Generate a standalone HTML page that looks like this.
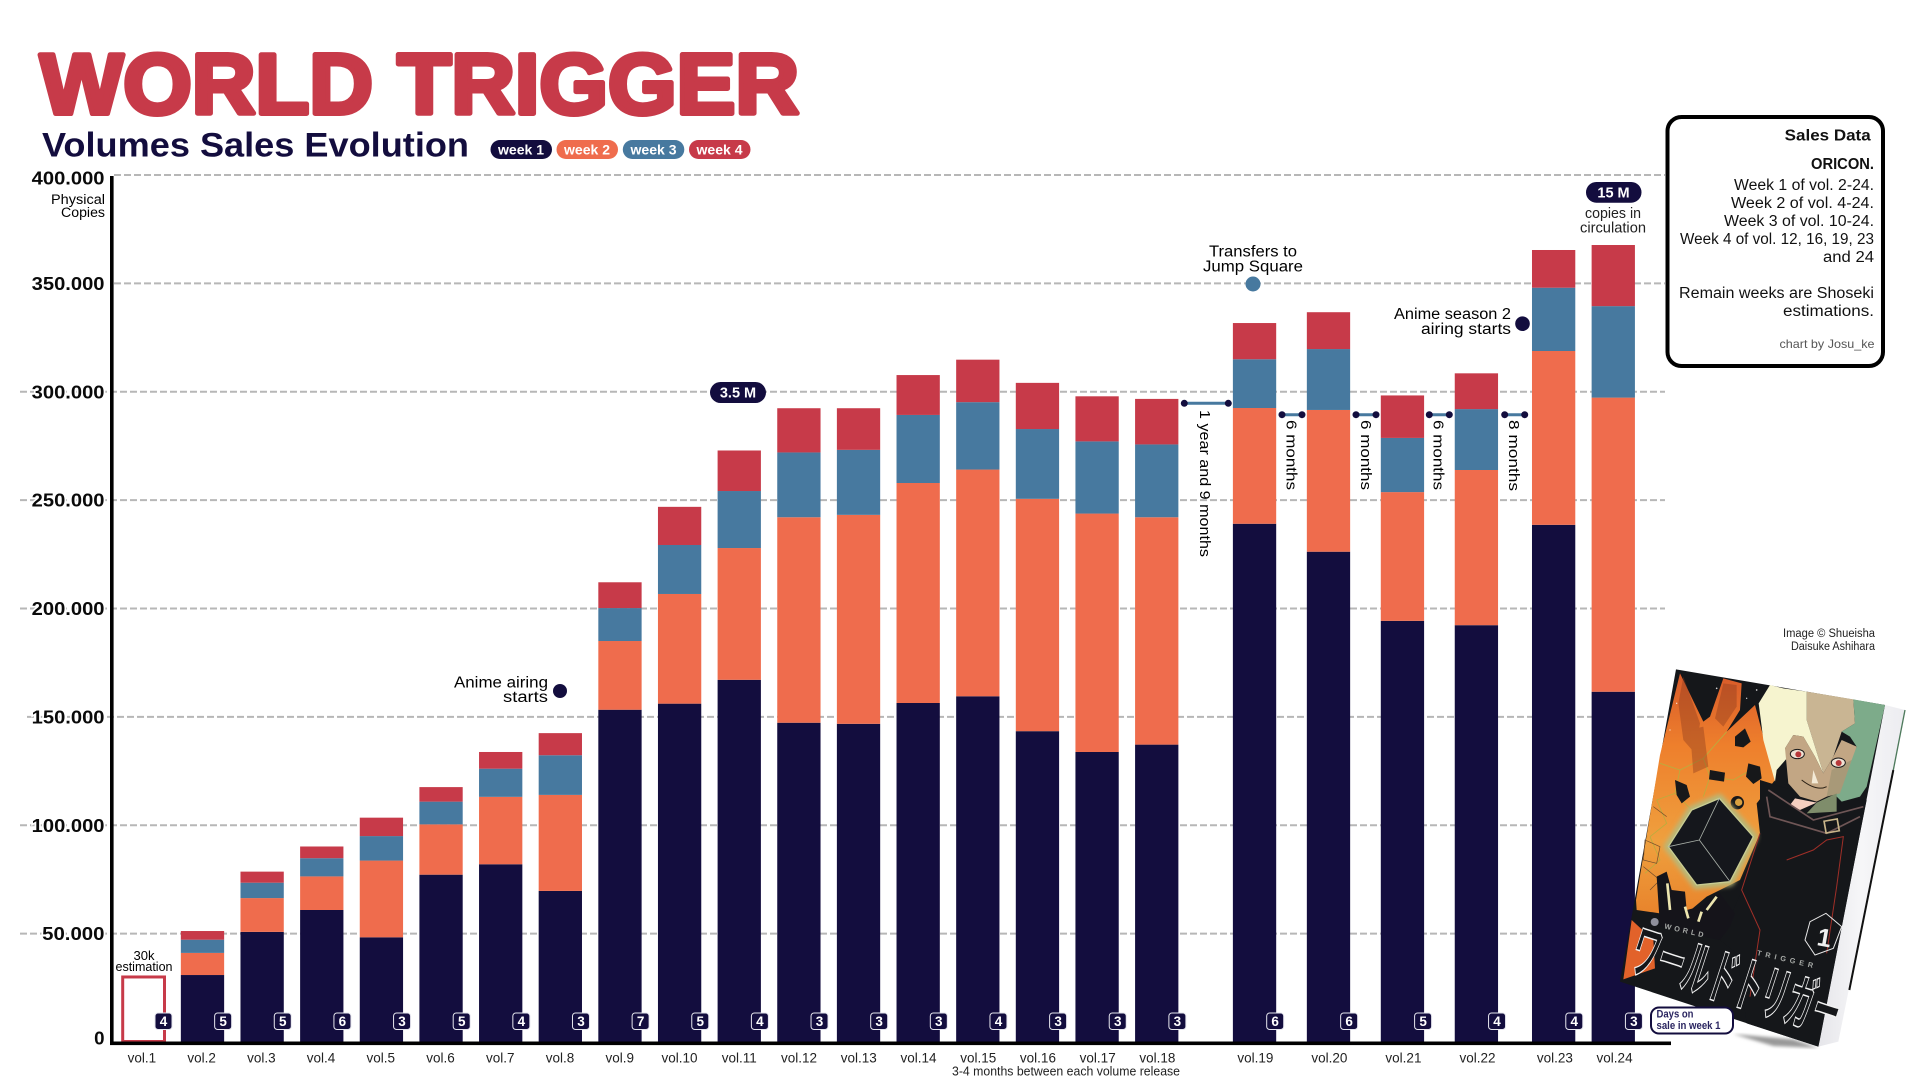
<!DOCTYPE html>
<html lang="en">
<head>
<meta charset="utf-8">
<title>World Trigger - Volumes Sales Evolution</title>
<style>
html,body{margin:0;padding:0;background:#fff;width:1920px;height:1080px;overflow:hidden}
svg{display:block;font-family:"Liberation Sans","Noto Sans CJK JP",sans-serif}
</style>
</head>
<body>
<svg id="chart" xmlns="http://www.w3.org/2000/svg" width="1920" height="1080" viewBox="0 0 1920 1080">
<defs>
<linearGradient id="orangeFan" x1="0" y1="0" x2="0" y2="1">
<stop offset="0" stop-color="#d85a2a"/><stop offset=".3" stop-color="#ee7f2c"/><stop offset=".7" stop-color="#efa03e"/><stop offset="1" stop-color="#e8842c"/>
</linearGradient>
<linearGradient id="pagesFill" x1="0" y1="0" x2="1" y2="0">
<stop offset="0" stop-color="#e6e6ea"/><stop offset=".5" stop-color="#f6f6f8"/><stop offset="1" stop-color="#ececf0"/>
</linearGradient>
<filter id="soft"><feGaussianBlur stdDeviation="5"/></filter>
<filter id="glow"><feGaussianBlur stdDeviation="7"/></filter>
</defs>

<g id="gridLayer"></g>
<g id="barLayer"></g>
<rect x="110" y="176" width="3.6" height="869" fill="#000"/>
<rect x="110" y="1041.5" width="1561" height="3.6" fill="#000"/>
<g id="tickLayer"></g>
<g id="xLabelLayer"></g>

<text x="40" y="113.5" font-size="85" font-weight="700" fill="#c73a49" stroke="#c73a49" stroke-width="5" stroke-linejoin="round" textLength="759" lengthAdjust="spacingAndGlyphs">WORLD TRIGGER</text>
<text x="42" y="156.5" font-size="34" font-weight="700" fill="#130d3e" textLength="427" lengthAdjust="spacingAndGlyphs">Volumes Sales Evolution</text>

<g font-size="13.5" font-weight="700" fill="#fff" text-anchor="middle">
<g><rect x="490.5" y="140" width="61.5" height="19" rx="9.5" fill="#130d3e"/><text x="521" y="154.5" textLength="46" lengthAdjust="spacingAndGlyphs">week 1</text></g>
<g><rect x="556.5" y="140" width="61.5" height="19" rx="9.5" fill="#ef6c4d"/><text x="587" y="154.5" textLength="46" lengthAdjust="spacingAndGlyphs">week 2</text></g>
<g><rect x="622.8" y="140" width="61.5" height="19" rx="9.5" fill="#47799f"/><text x="653.5" y="154.5" textLength="46" lengthAdjust="spacingAndGlyphs">week 3</text></g>
<g><rect x="689" y="140" width="61.5" height="19" rx="9.5" fill="#c73a49"/><text x="719.5" y="154.5" textLength="46" lengthAdjust="spacingAndGlyphs">week 4</text></g>
</g>

<g font-size="13.5" text-anchor="end" fill="#000">
<text x="105" y="204" textLength="54" lengthAdjust="spacingAndGlyphs">Physical</text>
<text x="105" y="217" textLength="44" lengthAdjust="spacingAndGlyphs">Copies</text>
</g>

<g font-size="13" text-anchor="middle" fill="#000">
<text x="144" y="960">30k</text>
<text x="144" y="971" textLength="57" lengthAdjust="spacingAndGlyphs">estimation</text>
</g>

<g font-size="15.5" fill="#000" text-anchor="end">
<text x="548" y="687.5" textLength="94" lengthAdjust="spacingAndGlyphs">Anime airing</text>
<text x="548" y="702" textLength="45" lengthAdjust="spacingAndGlyphs">starts</text>
<circle cx="560" cy="691" r="7" fill="#130d3e"/>
</g>
<g font-size="15.5" fill="#000" text-anchor="middle">
<text x="1253" y="256.5" textLength="88" lengthAdjust="spacingAndGlyphs">Transfers to</text>
<text x="1253" y="271.5" textLength="100" lengthAdjust="spacingAndGlyphs">Jump Square</text>
<circle cx="1253" cy="284" r="7.5" fill="#47799f"/>
</g>
<g font-size="15.5" fill="#000" text-anchor="end">
<text x="1511" y="319" textLength="117" lengthAdjust="spacingAndGlyphs">Anime season 2</text>
<text x="1511" y="334" textLength="90" lengthAdjust="spacingAndGlyphs">airing starts</text>
<circle cx="1522.5" cy="323.7" r="7.3" fill="#130d3e"/>
</g>

<g>
<rect x="710" y="382" width="56" height="21" rx="10.5" fill="#130d3e"/>
<text x="738" y="397.5" font-size="14.5" font-weight="700" fill="#fff" text-anchor="middle">3.5 M</text>
</g>
<g>
<rect x="1586" y="182" width="55.5" height="20.7" rx="10.3" fill="#130d3e"/>
<text x="1613.5" y="197.5" font-size="14.5" font-weight="700" fill="#fff" text-anchor="middle">15 M</text>
</g>
<g font-size="14.5" fill="#222" text-anchor="middle">
<text x="1613" y="218" textLength="56" lengthAdjust="spacingAndGlyphs">copies in</text>
<text x="1613" y="232.5" textLength="66" lengthAdjust="spacingAndGlyphs">circulation</text>
</g>

<g font-size="15" fill="#000">
<g><line x1="1184.3" y1="403.3" x2="1228.3" y2="403.3" stroke="#47799f" stroke-width="3"/><circle cx="1184.3" cy="403.3" r="3.5" fill="#130d3e"/><circle cx="1228.3" cy="403.3" r="3.5" fill="#130d3e"/><text transform="translate(1200,410) rotate(90)" textLength="147" lengthAdjust="spacingAndGlyphs">1 year and 9 months</text></g>
<g><line x1="1282" y1="414.7" x2="1302" y2="414.7" stroke="#47799f" stroke-width="3"/><circle cx="1282" cy="414.7" r="3.5" fill="#130d3e"/><circle cx="1302" cy="414.7" r="3.5" fill="#130d3e"/><text transform="translate(1286.5,420) rotate(90)" textLength="70" lengthAdjust="spacingAndGlyphs">6 months</text></g>
<g><line x1="1356" y1="414.7" x2="1376" y2="414.7" stroke="#47799f" stroke-width="3"/><circle cx="1356" cy="414.7" r="3.5" fill="#130d3e"/><circle cx="1376" cy="414.7" r="3.5" fill="#130d3e"/><text transform="translate(1361,420) rotate(90)" textLength="70" lengthAdjust="spacingAndGlyphs">6 months</text></g>
<g><line x1="1429.3" y1="414.7" x2="1449.3" y2="414.7" stroke="#47799f" stroke-width="3"/><circle cx="1429.3" cy="414.7" r="3.5" fill="#130d3e"/><circle cx="1449.3" cy="414.7" r="3.5" fill="#130d3e"/><text transform="translate(1433.5,420) rotate(90)" textLength="70" lengthAdjust="spacingAndGlyphs">6 months</text></g>
<g><line x1="1504.7" y1="414.7" x2="1524.7" y2="414.7" stroke="#47799f" stroke-width="3"/><circle cx="1504.7" cy="414.7" r="3.5" fill="#130d3e"/><circle cx="1524.7" cy="414.7" r="3.5" fill="#130d3e"/><text transform="translate(1509,420) rotate(90)" textLength="71" lengthAdjust="spacingAndGlyphs">8 months</text></g>
</g>

<text x="952" y="1075.5" font-size="12.5" fill="#222" textLength="228" lengthAdjust="spacingAndGlyphs">3-4 months between each volume release</text>

<g>
<rect x="1667.5" y="117" width="215.5" height="249" rx="14" fill="#fff" stroke="#000" stroke-width="4"/>
<g font-size="15.5" fill="#111" text-anchor="end">
<text x="1870.7" y="140.7" font-weight="700" textLength="86" lengthAdjust="spacingAndGlyphs">Sales Data</text>
<text x="1874" y="169" font-weight="700" textLength="63" lengthAdjust="spacingAndGlyphs">ORICON.</text>
<text x="1874" y="190" textLength="140" lengthAdjust="spacingAndGlyphs">Week 1 of vol. 2-24.</text>
<text x="1874" y="208" textLength="143" lengthAdjust="spacingAndGlyphs">Week 2 of vol. 4-24.</text>
<text x="1874" y="226" textLength="150" lengthAdjust="spacingAndGlyphs">Week 3 of vol. 10-24.</text>
<text x="1874" y="244" textLength="194" lengthAdjust="spacingAndGlyphs">Week 4 of vol. 12, 16, 19, 23</text>
<text x="1874" y="262" textLength="51" lengthAdjust="spacingAndGlyphs">and 24</text>
<text x="1874" y="298" textLength="195" lengthAdjust="spacingAndGlyphs">Remain weeks are Shoseki</text>
<text x="1874" y="316" textLength="91" lengthAdjust="spacingAndGlyphs">estimations.</text>
<text x="1874.5" y="348" font-size="12" fill="#555" textLength="95" lengthAdjust="spacingAndGlyphs">chart by Josu_ke</text>
</g>
</g>

<g font-size="11.5" fill="#222" text-anchor="end">
<text x="1875" y="637" textLength="92" lengthAdjust="spacingAndGlyphs">Image © Shueisha</text>
<text x="1875" y="650" textLength="84" lengthAdjust="spacingAndGlyphs">Daisuke Ashihara</text>
</g>

<g id="book" transform="translate(1560,620) scale(.33333)">
<polygon points="520,1242 700,1258 775,1284 640,1278" fill="#999" filter="url(#soft)"/>
<polygon points="975,255 1035,270 835,1265 775,1280" fill="url(#pagesFill)"/>
<polyline points="1035,270 1000,450" fill="none" stroke="#4e7a5c" stroke-width="4"/>
<polyline points="1000,450 868,1110" fill="none" stroke="#111" stroke-width="6"/>
<polygon points="348,148 975,255 775,1280 180,1085" fill="#15171a"/>
<polygon points="360,160 430,305 450,290 490,175 545,190 540,270 500,335 585,255 610,350 645,480 590,550 600,640 540,780 440,830 380,880 300,880 230,870 228,840 300,405" fill="url(#orangeFan)"/>
<polygon points="215,900 280,960 285,1045 190,1078" fill="#e2622a"/>
<g fill="none" stroke="#b9ad3e" stroke-width="2.5">
<path d="M300,430 L360,450 L430,415 L500,335 M430,415 L450,470 L520,480 L590,440 M360,450 L345,520 L290,540 M450,470 L430,530 M345,520 L395,570 M290,540 L320,610 L270,650 M270,650 L300,720 L255,760"/>
</g>
<g fill="#8a3a1e" opacity=".4">
<polygon points="370,170 395,240 420,310 405,400 370,360 355,250"/>
<polygon points="490,190 530,195 530,260 490,320 465,295"/>
<polygon points="390,330 430,320 445,440 400,460"/>
</g>
<g fill="#17181a">
<polygon points="525,350 555,325 572,365 550,382 525,378"/>
<polygon points="345,480 380,495 390,530 365,550 350,525"/>
<polygon points="565,430 600,440 605,475 580,492 558,470"/>
<circle cx="532" cy="548" r="20"/>
<polygon points="450,450 495,458 492,485 447,478"/>
</g>
<circle cx="536" cy="547" r="11" fill="#d8a040"/>
<g fill="none" stroke="#6e4a2a" stroke-width="2">
<path d="M255,660 L300,680 L290,730 L250,720 Z M280,560 L320,590 M250,740 L300,780 L270,810"/>
</g>
<g fill="#fff" opacity=".8">
<circle cx="470" cy="205" r="2.5"/><circle cx="350" cy="250" r="2"/><circle cx="330" cy="330" r="2"/><circle cx="590" cy="210" r="2.5"/><circle cx="560" cy="235" r="2"/>
</g>

<polygon points="600,480 760,530 920,540 900,640 779,1262 775,1280 560,1210 530,1000 480,960 560,780 600,640" fill="#15171a"/>
<polygon points="478,535 580,650 510,785 410,795 325,680 395,570" fill="#dfe3a0" stroke="#b8b878" stroke-width="26" stroke-linejoin="round" filter="url(#glow)"/>
<polygon points="478,535 580,650 510,785 410,795 325,680 395,570" fill="#15171c" stroke="#c9cc92" stroke-width="4" stroke-linejoin="round"/>
<path d="M418,660 L478,535 M418,660 L325,680 M418,660 L510,785" fill="none" stroke="#a9b0a8" stroke-width="2.5"/>

<polygon points="290,770 320,755 335,810 375,815 380,870 420,860 480,820 525,880 510,920 480,960 430,950 300,920" fill="#15141a"/>
<path d="M322,790 L330,870 M375,860 L385,895 M425,875 L415,905 M470,830 L440,870" fill="none" stroke="#ede6b0" stroke-width="8"/>

<polygon points="740,215 880,238 885,310 845,335 820,410 790,460 740,300" fill="#c9b593"/>
<polygon points="880,238 975,255 920,500 900,530 845,545 815,515 855,460 890,380 870,350 845,335 885,310" fill="#7dab8a"/>
<polygon points="630,195 670,205 740,215 740,300 790,460 765,410 730,350 700,345 675,385 685,410 650,450 645,485 610,360 605,320 596,250" fill="#f6f4cf"/>
<polygon points="700,345 730,350 765,410 790,460 820,410 845,360 890,380 860,460 820,520 770,545 720,530 685,490 675,385" fill="#c2a684"/>
<polygon points="815,450 875,420 840,520 800,530" fill="#a89978"/>
<polygon points="705,535 770,548 720,570 690,555" fill="#f4cfc0"/>
<polygon points="770,548 830,520 830,575 740,580" fill="#7f8d6b"/>
<g>
<ellipse cx="712" cy="402" rx="21" ry="14" fill="#efe2d4" stroke="#1a1a1a" stroke-width="3"/>
<circle cx="715" cy="403" r="9" fill="#b8383a"/>
<ellipse cx="835" cy="428" rx="21" ry="14" fill="#efe2d4" stroke="#1a1a1a" stroke-width="3"/>
<circle cx="836" cy="429" r="9" fill="#b8383a"/>
<path d="M725,480 Q770,515 800,500" fill="none" stroke="#2a2014" stroke-width="3"/>
<path d="M760,450 L755,490 L775,490" fill="#f3ead6" stroke="none"/>
</g>
<g fill="none" stroke="#6f5656" stroke-width="5">
<path d="M620,530 L630,590 L800,640 L900,590"/>
<path d="M625,510 L760,600 L910,560"/>
<rect x="795" y="600" width="40" height="36" transform="rotate(-10 815 618)" stroke="#c9b58a"/>
</g>
<g fill="none" stroke="#a02f28" stroke-width="3">
<path d="M600,640 L545,810 L600,930 L570,1130"/>
<path d="M680,720 L760,690 L800,660 L850,650 L830,800 L800,1000"/>
</g>

<text transform="translate(312,925) rotate(13)" font-size="22" font-weight="700" fill="#a6a9a6" textLength="120" lengthAdjust="spacing">WORLD</text>
<text transform="translate(590,1005) rotate(13)" font-size="22" font-weight="700" fill="#a6a9a6" textLength="172" lengthAdjust="spacing">TRIGGER</text>
<circle cx="284" cy="906" r="12" fill="#8f919c"/>
<polygon points="798,880 845,920 820,985 765,1005 735,960 750,905" fill="none" stroke="#e8e8e8" stroke-width="3"/>
<text transform="translate(768,975) rotate(10)" font-size="76" font-weight="700" fill="#f0f0f0">1</text>
<g transform="translate(200,1046) rotate(18) scale(1,2.2)">
<text x="0" y="0" font-family="'Noto Sans CJK JP','Liberation Sans',sans-serif" font-size="82" font-weight="700" fill="#15171a" stroke="#f2f2f2" stroke-width="2" textLength="650" lengthAdjust="spacingAndGlyphs">ワールドトリガー</text>
</g>
</g>

<g id="badgeLayer"></g>

<g>
<rect x="1651" y="1007.5" width="82" height="26" rx="8" fill="#fff" stroke="#130d3e" stroke-width="2"/>
<g font-size="11" font-weight="700" fill="#2a2560">
<text x="1656.5" y="1017.5" textLength="37" lengthAdjust="spacingAndGlyphs">Days on</text>
<text x="1656.5" y="1029" textLength="64" lengthAdjust="spacingAndGlyphs">sale in week 1</text>
</g>
</g>
</svg>

<script>
const categories = ["vol.1","vol.2","vol.3","vol.4","vol.5","vol.6","vol.7","vol.8","vol.9","vol.10","vol.11","vol.12","vol.13","vol.14","vol.15","vol.16","vol.17","vol.18","vol.19","vol.20","vol.21","vol.22","vol.23","vol.24"];
const week1 = [0,30900,50800,60900,48300,77200,82000,69700,153300,156100,167100,147300,146800,156400,159500,143400,133800,137200,239100,226200,194300,192300,238600,161600];
const week2 = [0,10200,15600,15500,35400,23200,31100,44300,31700,50600,60800,94800,96400,101500,104600,107200,110000,104900,53400,65400,59400,71600,80200,135700];
const week3 = [0,6100,7100,8400,11300,10500,13000,18300,15200,22600,26300,29900,30000,31400,31100,32200,33300,33600,22500,28100,25000,28100,29200,42200];
const week4 = [0,4000,5100,5400,8500,6700,7700,10200,11900,17600,18700,20400,19200,18400,19600,21300,20800,21000,16700,17000,19600,16500,17400,28200];
const volume1Estimate = [30000];
const daysOnSale = [4,5,5,6,3,5,4,3,7,5,4,3,3,3,4,3,3,3,6,6,5,4,4,3];
const releaseBreaks = [0,0,0,0,0,0,0,0,0,0,0,0,0,0,0,0,0,0,0.64,0.24,0.24,0.24,0.295,0];
const tickValues = [0,50000,100000,150000,200000,250000,300000,350000,400000];
const tickLabels = ["0","50.000","100.000","150.000","200.000","250.000","300.000","350.000","400.000"];

const svgNS = "http://www.w3.org/2000/svg";
const seriesList = [week1, week2, week3, week4];
const seriesColors = ["#130d3e", "#ef6c4d", "#47799f", "#c73a49"];
const seriesNames = ["week-1", "week-2", "week-3", "week-4"];
const barWidth = 43.3;

function yScale(v) { return 1042 - v * 867 / 400000; }
function xScale(i) {
  let slot = i;
  for (let k = 0; k <= i; k++) { slot += releaseBreaks[k]; }
  return 121.2 + 59.64 * slot;
}
function make(tag, attrs, parent) {
  const node = document.createElementNS(svgNS, tag);
  for (const key in attrs) { node.setAttribute(key, attrs[key]); }
  parent.appendChild(node);
  return node;
}

const gridLayer = document.getElementById("gridLayer");
const tickLayer = document.getElementById("tickLayer");
tickValues.forEach(function (v, t) {
  if (v > 0) {
    const grid = make("line", {
      x1: v >= 350000 ? 114 : (v === 150000 ? 27 : 20),
      x2: 1665, y1: yScale(v), y2: yScale(v),
      stroke: "#b7b7b7", "stroke-width": 2, "stroke-dasharray": "7 3"
    }, gridLayer);
    
    
  }
  const nudge = v === 400000 ? 3 : (v === 0 ? -4 : 0);
  const tick = make("text", {
    x: 104.5, y: yScale(v) + 6.5 + nudge, "font-size": 18, "font-weight": 700,
    "text-anchor": "end", fill: "#0a0a0a", stroke: "#fff", "stroke-width": 3,
    "paint-order": "stroke", textLength: tickLabels[t].length * 10.4,
    lengthAdjust: "spacingAndGlyphs"
  }, tickLayer);
  
  
  tick.textContent = tickLabels[t];
});

const barLayer = document.getElementById("barLayer");
const xLabelLayer = document.getElementById("xLabelLayer");
const badgeLayer = document.getElementById("badgeLayer");
categories.forEach(function (name, i) {
  let running = 0;
  seriesList.forEach(function (series, s) {
    const value = series[i];
    if (value > 0) {
      const seg = make("rect", {
        x: xScale(i), y: yScale(running + value), width: barWidth,
        height: yScale(running) - yScale(running + value), fill: seriesColors[s]
      }, barLayer);
      
      
    }
    running += value;
  });

  const label = make("text", {
    x: xScale(i) + barWidth / 2 - 1 + i * 0.1, y: 1062.5, "font-size": 13.5,
    "text-anchor": "middle", fill: "#222"
  }, xLabelLayer);
  
  
  label.textContent = name;

  const badgeBox = make("rect", {
    x: xScale(i) + barWidth - 9.5, y: 1013, width: 17, height: 16.5, rx: 3,
    fill: "#130d3e", stroke: "#e6e6ee", "stroke-width": 1
  }, badgeLayer);
  
  
  const badgeText = make("text", {
    x: xScale(i) + barWidth - 1, y: 1026, "font-size": 13.5, "font-weight": 700,
    "text-anchor": "middle", fill: "#fff"
  }, badgeLayer);
  
  
  badgeText.textContent = daysOnSale[i];
});

const estimateBox = make("rect", {
  x: xScale(0) + 1.5, y: yScale(volume1Estimate[0]), width: barWidth - 1.5,
  height: yScale(0) - yScale(volume1Estimate[0]) - 0.5,
  fill: "none", stroke: "#c73a49", "stroke-width": 3
}, barLayer);


</script>
</body>
</html>
